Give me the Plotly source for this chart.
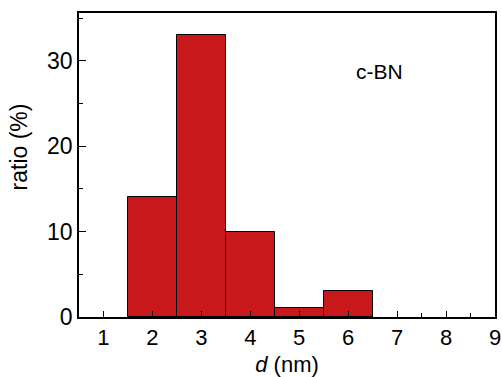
import plotly.graph_objects as go

d_nm = [2, 3, 4, 5, 6]
ratio = [14, 33, 10, 1, 3]
x_ticks = [1, 2, 3, 4, 5, 6, 7, 8, 9]
y_ticks = [0, 10, 20, 30]

font = "Arial, Liberation Sans, sans-serif"

fig = go.Figure()
fig.add_trace(go.Bar(
    x=d_nm, y=ratio, width=1,
    marker=dict(color="#C8181C", line=dict(color="black", width=1)),
))

fig.add_annotation(x=6.63, y=28.8, xref="x", yref="y", text="c-BN", showarrow=False,
                   font=dict(family=font, size=21, color="black"))
fig.add_annotation(x=-0.145, y=0.56, xref="paper", yref="paper", text="ratio (%)",
                   textangle=-90, showarrow=False, xanchor="center", yanchor="middle",
                   font=dict(family=font, size=23, color="black"))

fig.update_layout(
    width=502, height=377,
    margin=dict(l=79, r=7, t=13, b=60, autoexpand=False),
    plot_bgcolor="white", paper_bgcolor="white",
    showlegend=False,
    font=dict(family=font, size=23, color="black"),
    bargap=0,
)
fig.update_xaxes(
    range=[0.5, 9], tickvals=x_ticks, ticks="inside", ticklen=6, tickwidth=1.2,
    tickcolor="black", showline=True, linecolor="black", linewidth=1.5, mirror=True,
    showgrid=False, zeroline=False, automargin=False,
    minor=dict(ticks="inside", ticklen=4, dtick=0.5, tick0=0.5, tickcolor="black", tickwidth=1.2),
    title=dict(text="<i>d</i> (nm)", font=dict(size=22), standoff=8),
    tickfont=dict(size=22),
)
fig.update_yaxes(
    range=[0, 35.6], tickvals=y_ticks, ticks="inside", ticklen=7, tickwidth=1.2,
    tickcolor="black", showline=True, linecolor="black", linewidth=1.5, mirror=True,
    showgrid=False, zeroline=False, automargin=False,
    minor=dict(ticks="inside", ticklen=4, dtick=5, tick0=0, tickcolor="black", tickwidth=1.2),
    tickfont=dict(size=23),
)

fig.write_html("out.html", config={"displayModeBar": False},
               post_script="document.body.style.margin='0';")
